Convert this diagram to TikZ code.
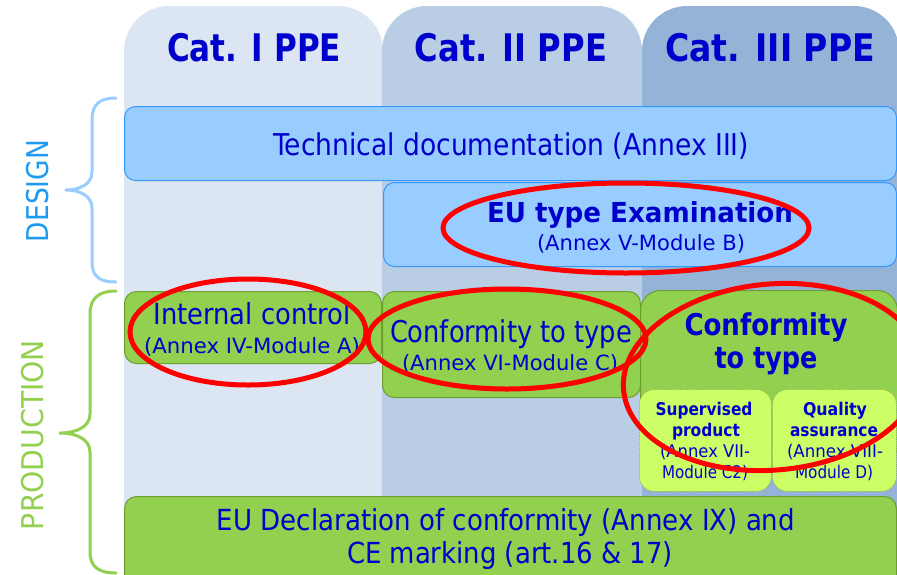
\documentclass[tikz,border=0pt]{standalone}
\usepackage{fontspec}
\setmainfont{DejaVu Sans}
\usetikzlibrary{shapes.geometric}
\definecolor{colA}{HTML}{DCE6F2}
\definecolor{colB}{HTML}{B9CDE5}
\definecolor{colC}{HTML}{95B3D7}
\definecolor{txt}{HTML}{0000CC}
\definecolor{bluefill}{HTML}{99CCFF}
\definecolor{blueline}{HTML}{3399FF}
\definecolor{greenfill}{HTML}{92D050}
\definecolor{greenline}{HTML}{6E9E2E}
\definecolor{limefill}{HTML}{CCFF66}
\definecolor{designc}{HTML}{1E9BF0}
\definecolor{braceblue}{HTML}{99CCFF}
\definecolor{prodc}{HTML}{92D050}
\newcommand\myfs[1]{\fontsize{#1}{#1}\selectfont}
\newcommand\tw[2]{\resizebox{#1pt}{\height}{#2}}
\tikzset{
  colbox/.style={draw=none, rounded corners=45pt, inner sep=0, outer sep=0, anchor=north west, minimum height=640pt},
  bluebox/.style={draw=blueline, fill=bluefill, line width=1pt, rounded corners=11pt, inner sep=0, anchor=north west},
  greenbox/.style={draw=greenline, fill=greenfill, line width=1pt, rounded corners=12pt, inner sep=0, anchor=north west},
  limebox/.style={draw=greenline!80, fill=limefill, line width=0.8pt, densely dotted, rounded corners=15pt, inner sep=0, anchor=north west},
  lbl/.style={text=txt, inner sep=0, anchor=base},
  redring/.style={draw=red, line width=5pt, ellipse, inner sep=0},
  bracepath/.style={line width=3pt, line cap=round, line join=round},
}
\begin{document}
\begin{tikzpicture}[x=1pt,y=-1pt]
\useasboundingbox (0,0) rectangle (897,574);
\clip (0,0) rectangle (897,574);
\fill[white] (0,0) rectangle (897,574);
% columns
\node[colbox, fill=colA, minimum width=259pt] (colI) at (124,6) {};
\node[colbox, fill=colB, minimum width=260pt] (colII) at (382,6) {};
\node[colbox, fill=colC, minimum width=257pt] (colIII) at (642,6) {};
% headers
\node[lbl, font=\bfseries\myfs{38}] (hI) at (254,61) {\tw{174}{Cat. I PPE}};
\node[lbl, font=\bfseries\myfs{38}] (hII) at (511,61) {\tw{192}{Cat. II PPE}};
\node[lbl, font=\bfseries\myfs{38}] (hIII) at (770,61) {\tw{210}{Cat. III PPE}};
% design boxes
\node[bluebox, minimum width=772pt, minimum height=74pt] (tech) at (124,106) {};
\node[lbl, font=\myfs{30}] (techT) at (511,155) {\tw{476}{Technical documentation (Annex III)}};
\node[bluebox, minimum width=513pt, minimum height=84pt] (eut) at (383,182) {};
\node[lbl, font=\bfseries\myfs{27.5}] (eutA) at (640,222) {\tw{306}{EU type Examination}};
\node[lbl, font=\myfs{21}] (eutB) at (641,250) {\tw{208}{(Annex V-Module B)}};
% production boxes
\node[greenbox, minimum width=257pt, minimum height=72pt] (ic) at (124,291) {};
\node[lbl, font=\myfs{29}] (icA) at (252,324) {\tw{197}{Internal control}};
\node[lbl, font=\myfs{21}] (icB) at (252,353) {\tw{216}{(Annex IV-Module A)}};
\node[greenbox, minimum width=258pt, minimum height=106pt] (ct) at (382,291) {};
\node[lbl, font=\myfs{30}] (ctA) at (511,342) {\tw{242}{Conformity to type}};
\node[lbl, font=\myfs{21}] (ctB) at (510,370) {\tw{216}{(Annex VI-Module C)}};
\node[greenbox, rounded corners=20pt, minimum width=257pt, minimum height=175pt] (ct3) at (640,290) {};
\node[lbl, font=\bfseries\myfs{30}] (ct3A) at (766,335) {\tw{163}{Conformity}};
\node[lbl, font=\bfseries\myfs{30}] (ct3B) at (766,368) {\tw{103}{to type}};
\node[limebox, minimum width=132pt, minimum height=102pt] (sp) at (639,389) {};
\node[lbl, font=\bfseries\myfs{17.5}] (spA) at (704,415) {\tw{97}{Supervised}};
\node[lbl, font=\bfseries\myfs{17.5}] (spB) at (706,436) {\tw{68}{product}};
\node[lbl, font=\myfs{17.5}] (spC) at (705,457) {\tw{90}{(Annex VII-}};
\node[lbl, font=\myfs{17.5}] (spD) at (705,478) {\tw{86}{Module C2)}};
\node[limebox, minimum width=124pt, minimum height=102pt] (qa) at (772,389) {};
\node[lbl, font=\bfseries\myfs{17.5}] (qaA) at (835,415) {\tw{64}{Quality}};
\node[lbl, font=\bfseries\myfs{17.5}] (qaB) at (834,436) {\tw{88}{assurance}};
\node[lbl, font=\myfs{17.5}] (qaC) at (835,457) {\tw{96}{(Annex VIII-}};
\node[lbl, font=\myfs{17.5}] (qaD) at (834,478) {\tw{78}{Module D)}};
\node[greenbox, minimum width=772pt, minimum height=95pt] (decl) at (124,496) {};
\node[lbl, font=\myfs{29}] (declA) at (506,530) {\tw{578}{EU Declaration of conformity (Annex IX) and}};
\node[lbl, font=\myfs{29}] (declB) at (510,563) {\tw{326}{CE marking (art.16 \& 17)}};
% braces and side labels
\coordinate (dTop) at (116,98);
\coordinate (dTip) at (66,190);
\coordinate (dBot) at (116,282);
\draw[bracepath, draw=braceblue] (dTop) .. controls (100,98) and (92,104) .. (92,120) -- (92,172)
   .. controls (92,184) and (80,190) .. (dTip) .. controls (80,190) and (92,196) .. (92,208)
   -- (92,262) .. controls (92,277) and (100,282) .. (dBot);
\node[inner sep=0, rotate=90, text=designc, font=\myfs{30}] (design) at (38,191) {\tw{102}{DESIGN}};
\coordinate (pTop) at (116,291);
\coordinate (pTip) at (60,433);
\coordinate (pBot) at (116,573);
\draw[bracepath, draw=prodc] (pTop) .. controls (99,291) and (90,298) .. (90,314) -- (90,414)
   .. controls (90,427) and (76,433) .. (pTip) .. controls (76,433) and (90,439) .. (90,452)
   -- (90,552) .. controls (90,567) and (99,573) .. (pBot);
\node[inner sep=0, rotate=90, text=prodc, font=\myfs{30}] (production) at (33,435) {\tw{190}{PRODUCTION}};
% red rings
\node[redring, minimum width=236pt, minimum height=106pt] (r1) at (248,332) {};
\node[redring, minimum width=278pt, minimum height=100pt] (r2) at (507,339) {};
\node[redring, minimum width=366pt, minimum height=90pt] (r4) at (626,228) {};
\node[redring, minimum width=300pt, minimum height=186pt, rotate=5] (r3) at (773,377) {};
\end{tikzpicture}
\end{document}
